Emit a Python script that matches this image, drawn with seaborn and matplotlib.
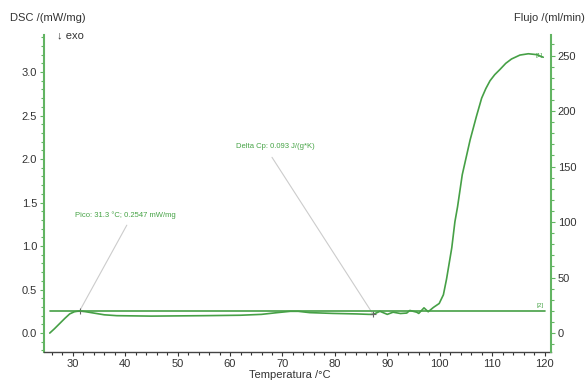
import matplotlib
matplotlib.use("Agg")
import matplotlib.pyplot as plt
from matplotlib.ticker import MultipleLocator
import numpy as np
import pandas as pd
import seaborn as sns

sns.set_theme(style="white")
plt.rcParams["font.family"] = ["Liberation Sans", "DejaVu Sans"]

# DSC signal (mW/mg) vs temperature (°C)
temperature = [25.6, 26.5, 27.5, 28.5, 29.4, 30.3, 31.3, 32.5, 34.0, 36.0, 38.4,
               45.0, 55.0, 62.0, 66.0, 69.0, 71.5, 73.0, 75.2, 79.6, 84.2, 86.5,
               87.3, 88.6, 90.0, 91.1, 92.5, 93.7, 94.3, 95.6, 96.0, 97.0, 97.8,
               98.8, 99.9, 100.7, 101.3, 102.3, 102.9, 103.4, 104.3, 105.8, 107.0,
               108.0, 108.8, 109.6, 110.5, 111.5, 112.6, 113.7, 115.3, 116.9,
               118.5, 119.75]
dsc = [0.0, 0.05, 0.11, 0.17, 0.22, 0.245, 0.2547, 0.245, 0.23, 0.21, 0.20,
       0.195, 0.20, 0.205, 0.215, 0.235, 0.25, 0.25, 0.235, 0.226, 0.22, 0.215,
       0.215, 0.25, 0.215, 0.24, 0.225, 0.23, 0.26, 0.24, 0.226, 0.29, 0.245,
       0.295, 0.34, 0.44, 0.62, 0.98, 1.28, 1.45, 1.82, 2.22, 2.49,
       2.70, 2.81, 2.90, 2.97, 3.03, 3.10, 3.15, 3.195, 3.21,
       3.20, 3.17]

# Purge gas flow (ml/min)
flow_temperature = [25.6, 120.0]
flow = [20.0, 20.0]

# Evaluated points and where their labels sit
peak_T, peak_dsc = 31.3, 0.2547
cp_T, cp_dsc = 87.3, 0.215
peak_label_anchor = (40.3, 1.24)
cp_label_anchor = (68.0, 2.02)

green = "#46a046"
spine_green = "#62b462"
text_green = "#45a345"
gray = "#333333"

fig = plt.figure(figsize=(5.88, 3.81), dpi=100)
ax = fig.add_axes([0.0748, 0.076, 0.862, 0.832])
ax2 = ax.twinx()

dsc_df = pd.DataFrame({"T": temperature, "DSC": dsc})
flow_df = pd.DataFrame({"T": flow_temperature, "Flujo": flow})

sns.lineplot(data=dsc_df, x="T", y="DSC", ax=ax, color=green, lw=1.2, sort=False)
sns.lineplot(data=flow_df, x="T", y="Flujo", ax=ax2, color=green, lw=1.2)

ax.set_xlim(24.5, 121.2)
ax.set_ylim(-0.218, 3.425)
ax2.set_ylim(-17.1, 268.5)

ax.xaxis.set_major_locator(MultipleLocator(10))
ax.xaxis.set_minor_locator(MultipleLocator(2))
ax.yaxis.set_major_locator(MultipleLocator(0.5))
ax.yaxis.set_minor_locator(MultipleLocator(0.1))
ax2.yaxis.set_major_locator(MultipleLocator(50))
ax2.yaxis.set_minor_locator(MultipleLocator(10))
ax.set_xticks(np.arange(30, 121, 10))
ax.set_yticks(np.arange(0, 3.01, 0.5))
ax.set_yticklabels([f"{v:.1f}" for v in np.arange(0, 3.01, 0.5)])
ax2.set_yticks(np.arange(0, 251, 50))

for a in (ax, ax2):
    a.set_xlabel("")
    a.set_ylabel("")
    a.spines["top"].set_visible(False)
    a.tick_params(which="both", direction="out", labelsize=8, colors=gray,
                  length=3, width=0.8, pad=2)
    a.tick_params(which="minor", length=2)
ax.tick_params(axis="x", which="both", bottom=True)
ax.tick_params(axis="y", which="both", left=True)
ax2.tick_params(axis="y", which="both", right=True)
ax.spines["right"].set_visible(False)
ax2.spines["left"].set_visible(False)
ax2.spines["bottom"].set_visible(False)
ax.spines["left"].set_color(spine_green)
ax.spines["left"].set_linewidth(1.5)
ax2.spines["right"].set_color(spine_green)
ax2.spines["right"].set_linewidth(1.5)
ax.spines["bottom"].set_color("#444444")
ax.spines["bottom"].set_linewidth(1.0)
ax.yaxis.set_tick_params(which="both", color=spine_green)
ax2.yaxis.set_tick_params(which="both", color=spine_green)

# Leader lines from the evaluated points to their labels
ax.plot([peak_T, peak_label_anchor[0]], [peak_dsc, peak_label_anchor[1]],
        color="#cccccc", lw=0.8, zorder=1)
ax.plot([cp_T, cp_label_anchor[0]], [cp_dsc, cp_label_anchor[1]],
        color="#cccccc", lw=0.8, zorder=1)
ax.text(30.4, 1.36, "Pico: 31.3 °C; 0.2547 mW/mg", color=text_green,
        fontsize=5.5, ha="left", va="center")
ax.text(61.2, 2.14, "Delta Cp: 0.093 J/(g*K)", color=text_green,
        fontsize=5.5, ha="left", va="center")
ax.plot([peak_T], [peak_dsc], marker="+", color="#666666", ms=4, mew=0.8)
ax.plot([cp_T], [cp_dsc], marker="+", color="#666666", ms=4, mew=0.8)

ax.text(119.6, dsc[-1] + 0.02, "[1]", color=text_green, fontsize=4.5,
        ha="right", va="center")
ax2.text(119.8, flow[-1] + 3, "[2]", color=text_green, fontsize=4.5,
         ha="right", va="bottom")

fig.text(0.017, 0.952, "DSC /(mW/mg)", fontsize=8, color=gray, ha="left", va="center")
fig.text(0.995, 0.952, "Flujo /(ml/min)", fontsize=8, color=gray, ha="right", va="center")
fig.text(0.097, 0.908, "↓ exo", fontsize=8, color=gray, ha="left", va="center")
fig.text(0.493, 0.015, "Temperatura /°C", fontsize=8, color=gray, ha="center", va="center")

fig.savefig("out.png", dpi=100, facecolor="white")
